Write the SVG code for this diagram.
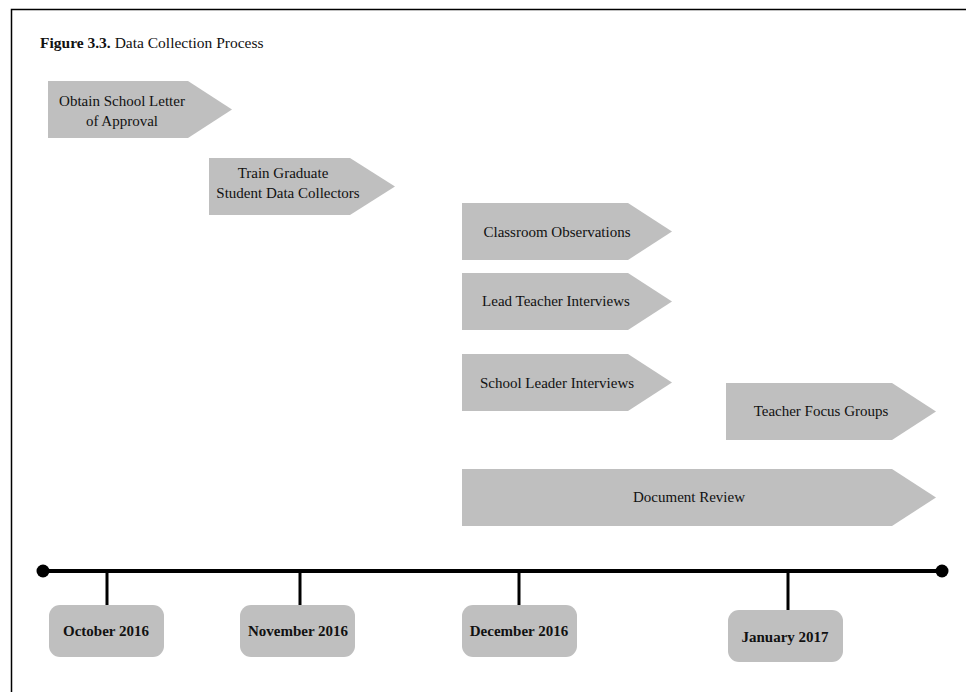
<svg xmlns="http://www.w3.org/2000/svg" width="966" height="692" viewBox="0 0 966 692">
  <style>
    .frame { fill: none; stroke: #000; stroke-width: 1.5; }
    .step { fill: #bfbfbf; }
    .lbl { font-family: "Liberation Serif", "Times New Roman", serif; font-size: 15px; fill: #111; text-anchor: middle; }
    .month { font-family: "Liberation Serif", "Times New Roman", serif; font-size: 15px; font-weight: bold; fill: #111; text-anchor: middle; }
    .title { font-family: "Liberation Serif", "Times New Roman", serif; font-size: 15.5px; fill: #111; }
    .axis { stroke: #000; stroke-width: 4; }
    .tick { stroke: #000; stroke-width: 3; }
    .mbox { fill: #bfbfbf; }
  </style>

  <rect width="966" height="692" fill="#fff"/>
  <!-- page frame (left and top edges) -->
  <path class="frame" d="M11.5 692 V9.5 H966"/>

  <text class="title" x="40" y="48"><tspan font-weight="bold">Figure 3.3.</tspan> Data Collection Process</text>

  <!-- activity arrows -->
  <g id="obtain-approval">
    <polygon class="step" points="48,81 188,81 232,109.5 188,138 48,138"/>
    <text class="lbl" x="122" y="106">Obtain School Letter</text>
    <text class="lbl" x="122" y="126">of Approval</text>
  </g>
  <g id="train-collectors">
    <polygon class="step" points="209,158 350,158 395,186.5 350,215 209,215"/>
    <text class="lbl" x="283" y="178">Train Graduate</text>
    <text class="lbl" x="288" y="198">Student Data Collectors</text>
  </g>
  <g id="classroom-observations">
    <polygon class="step" points="462,203 628,203 672,231.5 628,260 462,260"/>
    <text class="lbl" x="557" y="237">Classroom Observations</text>
  </g>
  <g id="lead-teacher-interviews">
    <polygon class="step" points="462,273 628,273 672,301.5 628,330 462,330"/>
    <text class="lbl" x="556" y="306">Lead Teacher Interviews</text>
  </g>
  <g id="school-leader-interviews">
    <polygon class="step" points="462,354 628,354 672,382.5 628,411 462,411"/>
    <text class="lbl" x="557" y="388">School Leader Interviews</text>
  </g>
  <g id="teacher-focus-groups">
    <polygon class="step" points="726,383 892,383 936,411.5 892,440 726,440"/>
    <text class="lbl" x="821" y="416">Teacher Focus Groups</text>
  </g>
  <g id="document-review">
    <polygon class="step" points="462,469 892,469 936,497.5 892,526 462,526"/>
    <text class="lbl" x="689" y="502">Document Review</text>
  </g>

  <!-- timeline axis and ticks -->
  <g id="connectors">
    <line class="axis" x1="43" y1="571" x2="942" y2="571"/>
    <circle cx="43" cy="571" r="6.5" fill="#000"/>
    <circle cx="942" cy="571" r="6.5" fill="#000"/>
    <line class="tick" x1="107" y1="571" x2="107" y2="605"/>
    <line class="tick" x1="300" y1="571" x2="300" y2="605"/>
    <line class="tick" x1="519" y1="571" x2="519" y2="605"/>
    <line class="tick" x1="788" y1="571" x2="788" y2="610"/>
  </g>

  <!-- month labels -->
  <g id="oct-2016">
    <rect class="mbox" x="49" y="605" width="115" height="52" rx="11"/>
    <text class="month" x="106" y="636">October 2016</text>
  </g>
  <g id="nov-2016">
    <rect class="mbox" x="240" y="605" width="115" height="52" rx="11"/>
    <text class="month" x="298" y="636">November 2016</text>
  </g>
  <g id="dec-2016">
    <rect class="mbox" x="462" y="605" width="115" height="52" rx="11"/>
    <text class="month" x="519" y="636">December 2016</text>
  </g>
  <g id="jan-2017">
    <rect class="mbox" x="728" y="610" width="115" height="52" rx="11"/>
    <text class="month" x="785" y="642">January 2017</text>
  </g>
</svg>
